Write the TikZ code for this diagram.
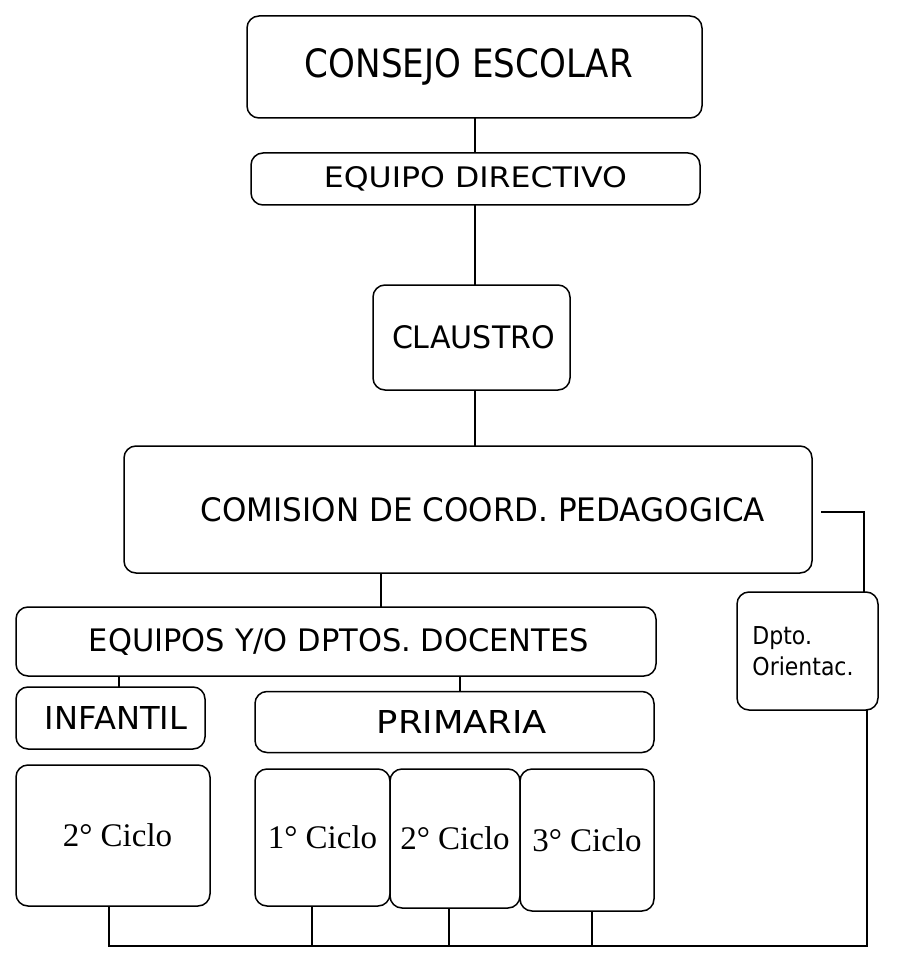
\documentclass[tikz,border=0pt]{standalone}
\usepackage{fontspec}
\usepackage{graphicx}
\newfontfamily\dvsans{DejaVu Sans}
\newfontfamily\serf{Liberation Serif}
\newcommand\fitlbl[3]{\resizebox{#1pt}{#2pt}{\dvsans #3}}
\newcommand\tallsm[1]{\scalebox{1}[1.12]{\dvsans #1}}
\newcommand\ciclotxt[1]{{\serf\fontsize{33}{40}\selectfont #1}}
\begin{document}
\begin{tikzpicture}[x=1pt,y=-1pt,
  box/.style={draw,line width=1.5pt,rounded corners=12pt,inner sep=0pt,outer sep=0pt,rectangle},
  conn/.style={line width=1.5pt}]
\fill[white] (0,0) rectangle (901,976);
% boxes
\node[box,minimum width=455pt,minimum height=102pt] (consejo) at (474.5,67) {\hspace*{-11pt}\fitlbl{328}{29}{CONSEJO ESCOLAR}};
\node[box,minimum width=449pt,minimum height=52pt] (directivo) at (475.5,179) {\fitlbl{303}{21}{EQUIPO DIRECTIVO}};
\node[box,minimum width=197pt,minimum height=105pt] (claustro) at (471.5,337.5) {\hspace*{4pt}\fitlbl{163}{23}{CLAUSTRO}};
\node[box,minimum width=688pt,minimum height=127pt] (comision) at (468,509.5) {\hspace*{30pt}\fitlbl{564}{24}{COMISION DE COORD. PEDAGOGICA}};
\node[box,minimum width=640pt,minimum height=69pt] (equipos) at (336,641.5) {\hspace*{6pt}\fitlbl{500}{23}{EQUIPOS Y/O DPTOS. DOCENTES}};
\node[box,minimum width=189pt,minimum height=62pt] (infantil) at (110.5,718) {\hspace*{11pt}\fitlbl{142}{23}{INFANTIL}};
\node[box,minimum width=399pt,minimum height=61pt] (primaria) at (454.5,722) {\hspace*{15pt}\fitlbl{170}{23}{PRIMARIA}};
\node[box,minimum width=141pt,minimum height=118pt,align=left,font=\fontsize{22}{31}\selectfont] (dpto) at (807.5,651) {\hspace*{-9pt}\tallsm{Dpto.}\\\hspace*{-9pt}\tallsm{Orientac.}};
\node[box,minimum width=194pt,minimum height=141pt] (c0) at (113,835.5) {\hspace*{9pt}\ciclotxt{2° Ciclo}};
\node[box,minimum width=135pt,minimum height=137pt] (c1) at (322.5,837.5) {\ciclotxt{1° Ciclo}};
\node[box,minimum width=130pt,minimum height=139pt] (c2) at (455,838.5) {\ciclotxt{2° Ciclo}};
\node[box,minimum width=134pt,minimum height=142pt] (c3) at (587,840) {\ciclotxt{3° Ciclo}};
% guide coordinates
\coordinate (sp) at (475,0);
\coordinate (sp2) at (381,0);
\coordinate (sp3) at (119,0);
\coordinate (sp4) at (460,0);
\coordinate (sp5) at (864,0);
\coordinate (cfree) at (821,512);
\coordinate (bus) at (0,946);
\coordinate (d0) at (109,0);
\coordinate (d1) at (312,0);
\coordinate (d2) at (449,0);
\coordinate (d3) at (592,0);
\coordinate (d4) at (867,0);
% connectors
\draw[conn] (consejo.south -| sp) -- (directivo.north -| sp);
\draw[conn] (directivo.south -| sp) -- (claustro.north -| sp);
\draw[conn] (claustro.south -| sp) -- (comision.north -| sp);
\draw[conn] (comision.south -| sp2) -- (equipos.north -| sp2);
\draw[conn] (equipos.south -| sp3) -- (infantil.north -| sp3);
\draw[conn] (equipos.south -| sp4) -- (primaria.north -| sp4);
\draw[conn] (cfree) -| (dpto.north -| sp5);
\draw[conn] (c0.south -| d0) -- (bus -| d0) -- (bus -| d4) -- (dpto.south -| d4);
\draw[conn] (c1.south -| d1) -- (bus -| d1);
\draw[conn] (c2.south -| d2) -- (bus -| d2);
\draw[conn] (c3.south -| d3) -- (bus -| d3);
\end{tikzpicture}
\end{document}
